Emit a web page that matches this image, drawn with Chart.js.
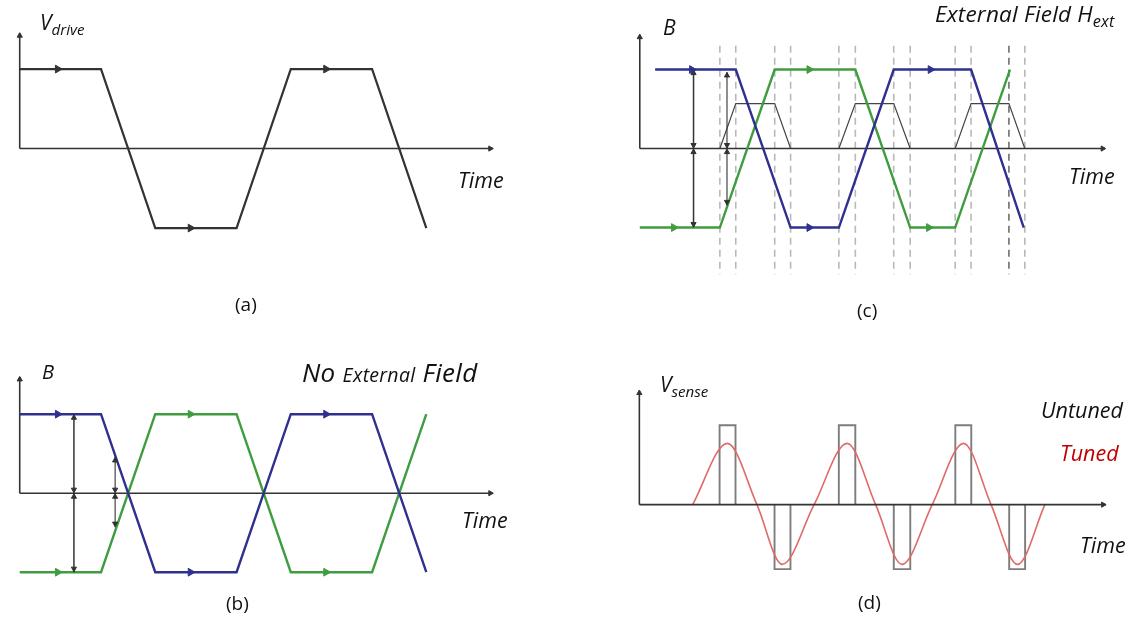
<!DOCTYPE html>
<html>
<head>
<meta charset="utf-8">
<title>Fluxgate drive / core / sense waveforms</title>
<script src="https://cdn.jsdelivr.net/npm/chart.js@4.4.1/dist/chart.umd.min.js"></script>
<style>
  html, body { margin: 0; padding: 0; background: #fff; }
  #page { position: relative; width: 1135px; height: 617px; overflow: hidden;
          font-family: "Open Sans", "Noto Sans", sans-serif; color: #111; }
  canvas { position: absolute; }
  .lbl { position: absolute; white-space: nowrap; line-height: 1; font-style: italic; }
  .lbl sub { font-size: 0.72em; vertical-align: -0.32em; line-height: 0; }
  .cap { font-style: normal; }
</style>
</head>
<body>
<div id="page">
  <canvas id="chartA" width="560" height="300" style="left:0px;top:0px"></canvas>
  <canvas id="chartB" width="560" height="260" style="left:0px;top:345px"></canvas>
  <canvas id="chartC" width="535" height="300" style="left:600px;top:0px"></canvas>
  <canvas id="chartD" width="535" height="240" style="left:600px;top:365px"></canvas>

  <div class="lbl" data-x="40" data-base="31" style="font-size:21px">V<sub>drive</sub></div>
  <div class="lbl" data-x="458" data-base="188" style="font-size:21.5px">Time</div>
  <div class="lbl cap" data-x="235" data-base="312" style="font-size:19px">(a)</div>

  <div class="lbl" data-x="42" data-base="380" style="font-size:20px">B</div>
  <div class="lbl" data-x="302" data-base="382" style="font-size:26px;letter-spacing:0.3px">No <span style="font-size:19.5px">External</span> Field</div>
  <div class="lbl" data-x="462" data-base="528" style="font-size:21.5px">Time</div>
  <div class="lbl cap" data-x="226" data-base="611" style="font-size:19px">(b)</div>

  <div class="lbl" data-x="663" data-base="36" style="font-size:21px">B</div>
  <div class="lbl" data-x="935" data-base="23" style="font-size:22.5px;letter-spacing:0.2px">External Field H<sub>ext</sub></div>
  <div class="lbl" data-x="1069" data-base="184" style="font-size:21.5px">Time</div>
  <div class="lbl cap" data-x="857" data-base="318" style="font-size:19px">(c)</div>

  <div class="lbl" data-x="660" data-base="393" style="font-size:21px">V<sub>sense</sub></div>
  <div class="lbl" data-x="1041" data-base="418" style="font-size:21.5px">Untuned</div>
  <div class="lbl" data-x="1060" data-base="461" style="font-size:21.5px;color:#c00000">Tuned</div>
  <div class="lbl" data-x="1080" data-base="553" style="font-size:21.5px">Time</div>
  <div class="lbl cap" data-x="858" data-base="610" style="font-size:19px">(d)</div>
</div>

<script>
// --- data: corner times (units of one ramp) and normalised levels

// (a) drive voltage
const driveTimes = [0, 1.5, 2.5, 4, 5, 6.5, 7.5];
const driveLevels = [1, 1, -1, -1, 1, 1, -1];
const driveArrowTimes = [0.7, 3.15, 5.65];

// (b) no external field: the two cores mirror each other
const coreBlueLevels = [1, 1, -1, -1, 1, 1, -1];
const coreGreenLevels = [-1, -1, 1, 1, -1, -1, 1];
const bigArrowB = { t: 1.0, top: 1, bottom: -1 };
const smallArrowB = { t: 1.76, top: 0.46, bottom: -0.43 };

// (c) with external field
const blueTimesC = [0.28, 1.75, 2.75, 3.63, 4.63, 6.04, 7.0];
const blueLevelsC = [1, 1, -1, -1, 1, 1, -1];
const greenTimesC = [0, 1.46, 2.46, 3.93, 4.93, 5.75, 6.75];
const greenLevelsC = [-1, -1, 1, 1, -1, -1, 1];
const blueArrowTimesC = [0.95, 3.09, 5.3];
const greenArrowTimesC = [0.62, 3.09, 5.27];
const pulseCorners = [[1.46, 1.75, 2.46, 2.75], [3.63, 3.93, 4.63, 4.93], [5.75, 6.04, 6.73, 7.02]];
const pulseHeight = 0.57;
const bigArrowC = { t: 0.98, top: 1, bottom: -1 };
const smallArrowC = { t: 1.59, top: 0.97, bottom: -0.72 };

// (d) sense voltage
const posPulses = [[1.46, 1.75], [3.63, 3.93], [5.75, 6.04]];
const negPulses = [[2.46, 2.75], [4.63, 4.93], [6.73, 7.02]];
const untunedTop = 1.01;
const untunedBottom = -0.82;
const tunedTimes = [0.97, 1.6, 2.14, 2.6, 3.18, 3.78, 4.3, 4.78, 5.33, 5.9, 6.4, 6.88, 7.38];
const tunedValues = [0, 0.78, 0, -0.76, 0, 0.78, 0, -0.76, 0, 0.78, 0, -0.76, 0];

// --- colours
const INK = '#333333';
const BLUE = '#30308f';
const GREEN = '#3f9d3f';
const RED = '#e06a6a';

// --- helpers
function zip(ts, vs) { return ts.map((t, i) => ({ x: t, y: vs[i] })); }

function lineSet(points, color, width, extra) {
  return Object.assign({
    data: points, showLine: true, borderColor: color, backgroundColor: color,
    borderWidth: width, pointRadius: 0, fill: false, tension: 0, spanGaps: false
  }, extra || {});
}

function markerSet(points, color, rotation, radius) {
  return {
    data: points, showLine: false, pointStyle: 'triangle', pointRotation: rotation,
    pointRadius: radius || 4, backgroundColor: color, borderColor: color, borderWidth: 1
  };
}

function axesSets(xEnd, yTop) {
  return [
    lineSet([{ x: 0, y: 0 }, { x: xEnd, y: 0 }], INK, 1.6),
    lineSet([{ x: 0, y: 0 }, { x: 0, y: yTop }], INK, 1.6),
    markerSet([{ x: xEnd - 0.04, y: 0 }], INK, 90, 3),
    markerSet([{ x: 0, y: yTop - 0.03 }], INK, 0, 3)
  ];
}

function vArrowSets(a, color, width) {
  const d = 0.045;
  return [
    lineSet([{ x: a.t, y: a.top }, { x: a.t, y: a.bottom }], color, width),
    markerSet([{ x: a.t, y: a.top - d }, { x: a.t, y: -d }], color, 0, 3),
    markerSet([{ x: a.t, y: d }, { x: a.t, y: a.bottom + d }], color, 180, 3)
  ];
}

function flatArrows(times, levels, series, color) {
  // arrow markers sit on the flat parts of the waveform
  const pts = times.map(t => {
    let i = 0;
    while (i < series.length - 1 && series[i + 1].x <= t) i++;
    return { x: t, y: levels[i] };
  });
  return markerSet(pts, color, 90, 4.5);
}

function withBreaks(groups) {
  const out = [];
  groups.forEach(g => { g.forEach(p => out.push(p)); out.push({ x: g[0].x, y: null }); });
  return out;
}

function makeChart(id, box, origin, unit, datasets) {
  return new Chart(document.getElementById(id), {
    type: 'scatter',
    data: { datasets: datasets },
    options: {
      responsive: false,
      animation: false,
      layout: { padding: 0 },
      plugins: { legend: { display: false }, tooltip: { enabled: false } },
      scales: {
        x: { type: 'linear', display: false,
             min: (box.left - origin.x) / unit.x,
             max: (box.left + box.width - origin.x) / unit.x },
        y: { type: 'linear', display: false,
             min: (origin.y - box.top - box.height) / unit.y,
             max: (origin.y - box.top) / unit.y }
      }
    }
  });
}

// --- (a)
(function () {
  const drive = zip(driveTimes, driveLevels);
  makeChart('chartA', { left: 0, top: 0, width: 560, height: 300 },
    { x: 14.5, y: 148.5 }, { x: 55.3, y: 82.5 }, [
      flatArrows(driveArrowTimes, driveLevels, drive, INK),
      lineSet(drive, INK, 2.2),
      ...axesSets(8.72, 1.45)
    ]);
})();

// --- (b)
(function () {
  const blue = zip(driveTimes, coreBlueLevels);
  const green = zip(driveTimes, coreGreenLevels);
  makeChart('chartB', { left: 0, top: 345, width: 560, height: 260 },
    { x: 14.5, y: 494 }, { x: 55.3, y: 82.5 }, [
      flatArrows(driveArrowTimes, coreBlueLevels, blue, BLUE),
      flatArrows(driveArrowTimes, coreGreenLevels, green, GREEN),
      ...vArrowSets(bigArrowB, INK, 1.5),
      ...vArrowSets(smallArrowB, INK, 1.1),
      lineSet(blue, BLUE, 2.4),
      lineSet(green, GREEN, 2.4),
      ...axesSets(8.72, 1.47)
    ]);
})();

// --- (c)
(function () {
  const blue = zip(blueTimesC, blueLevelsC);
  const green = zip(greenTimesC, greenLevelsC);
  const pulses = withBreaks(pulseCorners.map(c => [
    { x: c[0], y: 0 }, { x: c[1], y: pulseHeight }, { x: c[2], y: pulseHeight }, { x: c[3], y: 0 }
  ]));
  const allCorners = pulseCorners.flat();
  const lightLines = withBreaks(allCorners.filter((t, i) => i !== 10).map(t => [{ x: t, y: 1.3 }, { x: t, y: -1.59 }]));
  const darkLine = [{ x: allCorners[10], y: 1.3 }, { x: allCorners[10], y: -1.59 }];
  makeChart('chartC', { left: 600, top: 0, width: 535, height: 300 },
    { x: 635, y: 148.5 }, { x: 56, y: 82 }, [
      flatArrows(blueArrowTimesC, blueLevelsC, blue, BLUE),
      flatArrows(greenArrowTimesC, greenLevelsC, green, GREEN),
      ...vArrowSets(bigArrowC, INK, 1.5),
      ...vArrowSets(smallArrowC, INK, 1.1),
      lineSet(blue, BLUE, 2.4),
      lineSet(green, GREEN, 2.4),
      lineSet(pulses, '#444444', 1.2),
      ...axesSets(8.48, 1.44),
      lineSet(darkLine, '#6f6f6f', 1.6, { borderDash: [7, 5] }),
      lineSet(lightLines, '#b8b8b8', 1.6, { borderDash: [7, 5] })
    ]);
})();

// --- (d)
(function () {
  const rect = (p, h) => [{ x: p[0], y: 0 }, { x: p[0], y: h }, { x: p[1], y: h }, { x: p[1], y: 0 }];
  const untuned = withBreaks(posPulses.map(p => rect(p, untunedTop)).concat(negPulses.map(p => rect(p, untunedBottom))));
  makeChart('chartD', { left: 600, top: 365, width: 535, height: 240 },
    { x: 635, y: 505.5 }, { x: 56, y: 82 }, [
      ...axesSets(8.48, 1.45),
      lineSet(zip(tunedTimes, tunedValues), RED, 1.6, { cubicInterpolationMode: 'monotone' }),
      lineSet(untuned, '#7d7d7d', 1.9)
    ]);
})();

// --- place labels by their baseline
document.querySelectorAll('.lbl').forEach(el => {
  const size = parseFloat(el.style.fontSize);
  el.style.left = el.dataset.x + 'px';
  el.style.top = (parseFloat(el.dataset.base) - 0.888 * size) + 'px';
});
</script>
</body>
</html>
